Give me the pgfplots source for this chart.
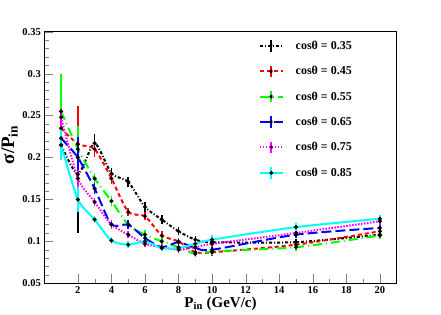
\documentclass[border=0pt]{standalone}
\usepackage{fontspec}
\setmainfont{Liberation Serif}
\usepackage{pgfplots}
\pgfplotsset{compat=1.18}
\usetikzlibrary{calc}
\definecolor{rgreen}{RGB}{0,255,0}
\definecolor{rred}{RGB}{255,0,0}
\definecolor{rblue}{RGB}{0,0,255}
\definecolor{rmag}{RGB}{255,0,255}
\definecolor{rcyan}{RGB}{0,255,255}
\begin{document}
\begin{tikzpicture}
\begin{axis}[name=ax,
  scale only axis, width=352.4pt, height=251.6pt,
  xmin=0, xmax=21, ymin=0.05, ymax=0.35,
  xtick={2,4,...,20}, minor x tick num=1,
  ytick={0.05,0.1,...,0.36}, minor y tick num=4,
  yticklabels={0.05,0.1,0.15,0.2,0.25,0.3,0.35},
  tick align=inside, axis line style={line width=0.8pt},
  major tick length=9pt, minor tick length=4.5pt,
  xtick pos=bottom, ytick pos=left,
  /pgf/number format/assume math mode=true,
  tick label style={font=\bfseries\fontsize{10.5}{12}\selectfont},
  xlabel={\textbf{P\textsubscript{in} (GeV/c)}},
  ylabel={\textbf{σ/P\textsubscript{in}}},
  xlabel style={font=\bfseries\fontsize{15}{18}\selectfont, at={(ticklabel cs:0.5)}, anchor=north, yshift=4pt},
  ylabel style={font=\bfseries\fontsize{19}{21}\selectfont, at={(ticklabel cs:0.55)}, anchor=south, yshift=-2pt},
  legend style={draw=none, fill=none, at={(0.6,0.98)}, anchor=north west,
    font=\bfseries\fontsize{12}{14}\selectfont, row sep=11.5pt,
    nodes={inner xsep=12pt}},
  legend cell align=left,
  legend image code/.code={
    \draw[#1] (0cm,0cm) -- (0.8cm,0cm);
    \draw[#1,solid] (0.4cm,-0.2cm) -- (0.4cm,0.2cm);
    \fill[black] (0.4cm,0cm) circle (0.7pt);
  },
  every axis plot/.append style={line width=2pt, mark=*, mark size=0.8pt,
    mark options={solid, fill=black, draw=black}, smooth, tension=0.4},
  error bars/y dir=both, error bars/y explicit,
  error bars/error bar style={line width=1.6pt, solid},
  error bars/error mark=none,
]
\addplot[black, dash pattern=on 3pt off 2pt on 1pt off 2pt] coordinates {
 (1,0.215) +- (0,0.008) (2,0.18) +- (0,0.07) (3,0.217) +- (0,0.011) (4,0.181) +- (0,0.007)
 (5,0.171) +- (0,0.006) (6,0.141) +- (0,0.006) (7,0.126) +- (0,0.005) (8,0.112) +- (0,0.005)
 (9,0.102) +- (0,0.004) (10,0.099) +- (0,0.004) (15,0.099) +- (0,0.004) (20,0.108) +- (0,0.004)};
\addlegendentry{cosθ = 0.35}
\addplot[rred, dash pattern=on 4pt off 3pt] coordinates {
 (1,0.235) +- (0,0.008) (2,0.216) +- (0,0.046) (3,0.21) +- (0,0.009) (4,0.175) +- (0,0.007)
 (5,0.135) +- (0,0.005) (6,0.13) +- (0,0.005) (7,0.107) +- (0,0.005) (8,0.1) +- (0,0.004)
 (9,0.087) +- (0,0.004) (10,0.087) +- (0,0.004) (15,0.096) +- (0,0.004) (20,0.112) +- (0,0.004)};
\addlegendentry{cosθ = 0.45}
\addplot[rgreen, dash pattern=on 9pt off 4pt on 1pt off 4pt] coordinates {
 (1,0.255) +- (0,0.045) (2,0.21) +- (0,0.027) (3,0.175) +- (0,0.006) (4,0.148) +- (0,0.006)
 (5,0.12) +- (0,0.005) (6,0.108) +- (0,0.005) (7,0.1) +- (0,0.004) (8,0.093) +- (0,0.004)
 (9,0.085) +- (0,0.004) (10,0.088) +- (0,0.004) (15,0.093) +- (0,0.004) (20,0.107) +- (0,0.004)};
\addlegendentry{cosθ = 0.55}
\addplot[rblue, dash pattern=on 10pt off 4pt] coordinates {
 (1,0.223) +- (0,0.008) (2,0.2) +- (0,0.025) (3,0.163) +- (0,0.006) (4,0.12) +- (0,0.005)
 (5,0.12) +- (0,0.005) (6,0.104) +- (0,0.004) (7,0.093) +- (0,0.004) (8,0.099) +- (0,0.004)
 (9,0.092) +- (0,0.004) (10,0.09) +- (0,0.004) (15,0.108) +- (0,0.004) (20,0.116) +- (0,0.004)};
\addlegendentry{cosθ = 0.65}
\addplot[rmag, dash pattern=on 1.5pt off 1.5pt] coordinates {
 (1,0.248) +- (0,0.01) (2,0.175) +- (0,0.01) (3,0.147) +- (0,0.005) (4,0.12) +- (0,0.005)
 (5,0.108) +- (0,0.004) (6,0.097) +- (0,0.004) (7,0.093) +- (0,0.004) (8,0.09) +- (0,0.004)
 (9,0.093) +- (0,0.004) (10,0.097) +- (0,0.004) (15,0.11) +- (0,0.004) (20,0.124) +- (0,0.004)};
\addlegendentry{cosθ = 0.75}
\addplot[rcyan] coordinates {
 (1,0.215) +- (0,0.018) (2,0.15) +- (0,0.015) (3,0.126) +- (0,0.004) (4,0.101) +- (0,0.004)
 (5,0.096) +- (0,0.004) (6,0.1) +- (0,0.004) (7,0.092) +- (0,0.004) (8,0.092) +- (0,0.004)
 (9,0.097) +- (0,0.004) (10,0.102) +- (0,0.005) (15,0.117) +- (0,0.005) (20,0.127) +- (0,0.005)};
\addlegendentry{cosθ = 0.85}
\end{axis}
\pgfresetboundingbox
\useasboundingbox ($(ax.south west)+(-44.3pt,-31.7pt)$) rectangle ($(ax.north east)+(44.3pt,31.7pt)$);
\end{tikzpicture}
\end{document}
